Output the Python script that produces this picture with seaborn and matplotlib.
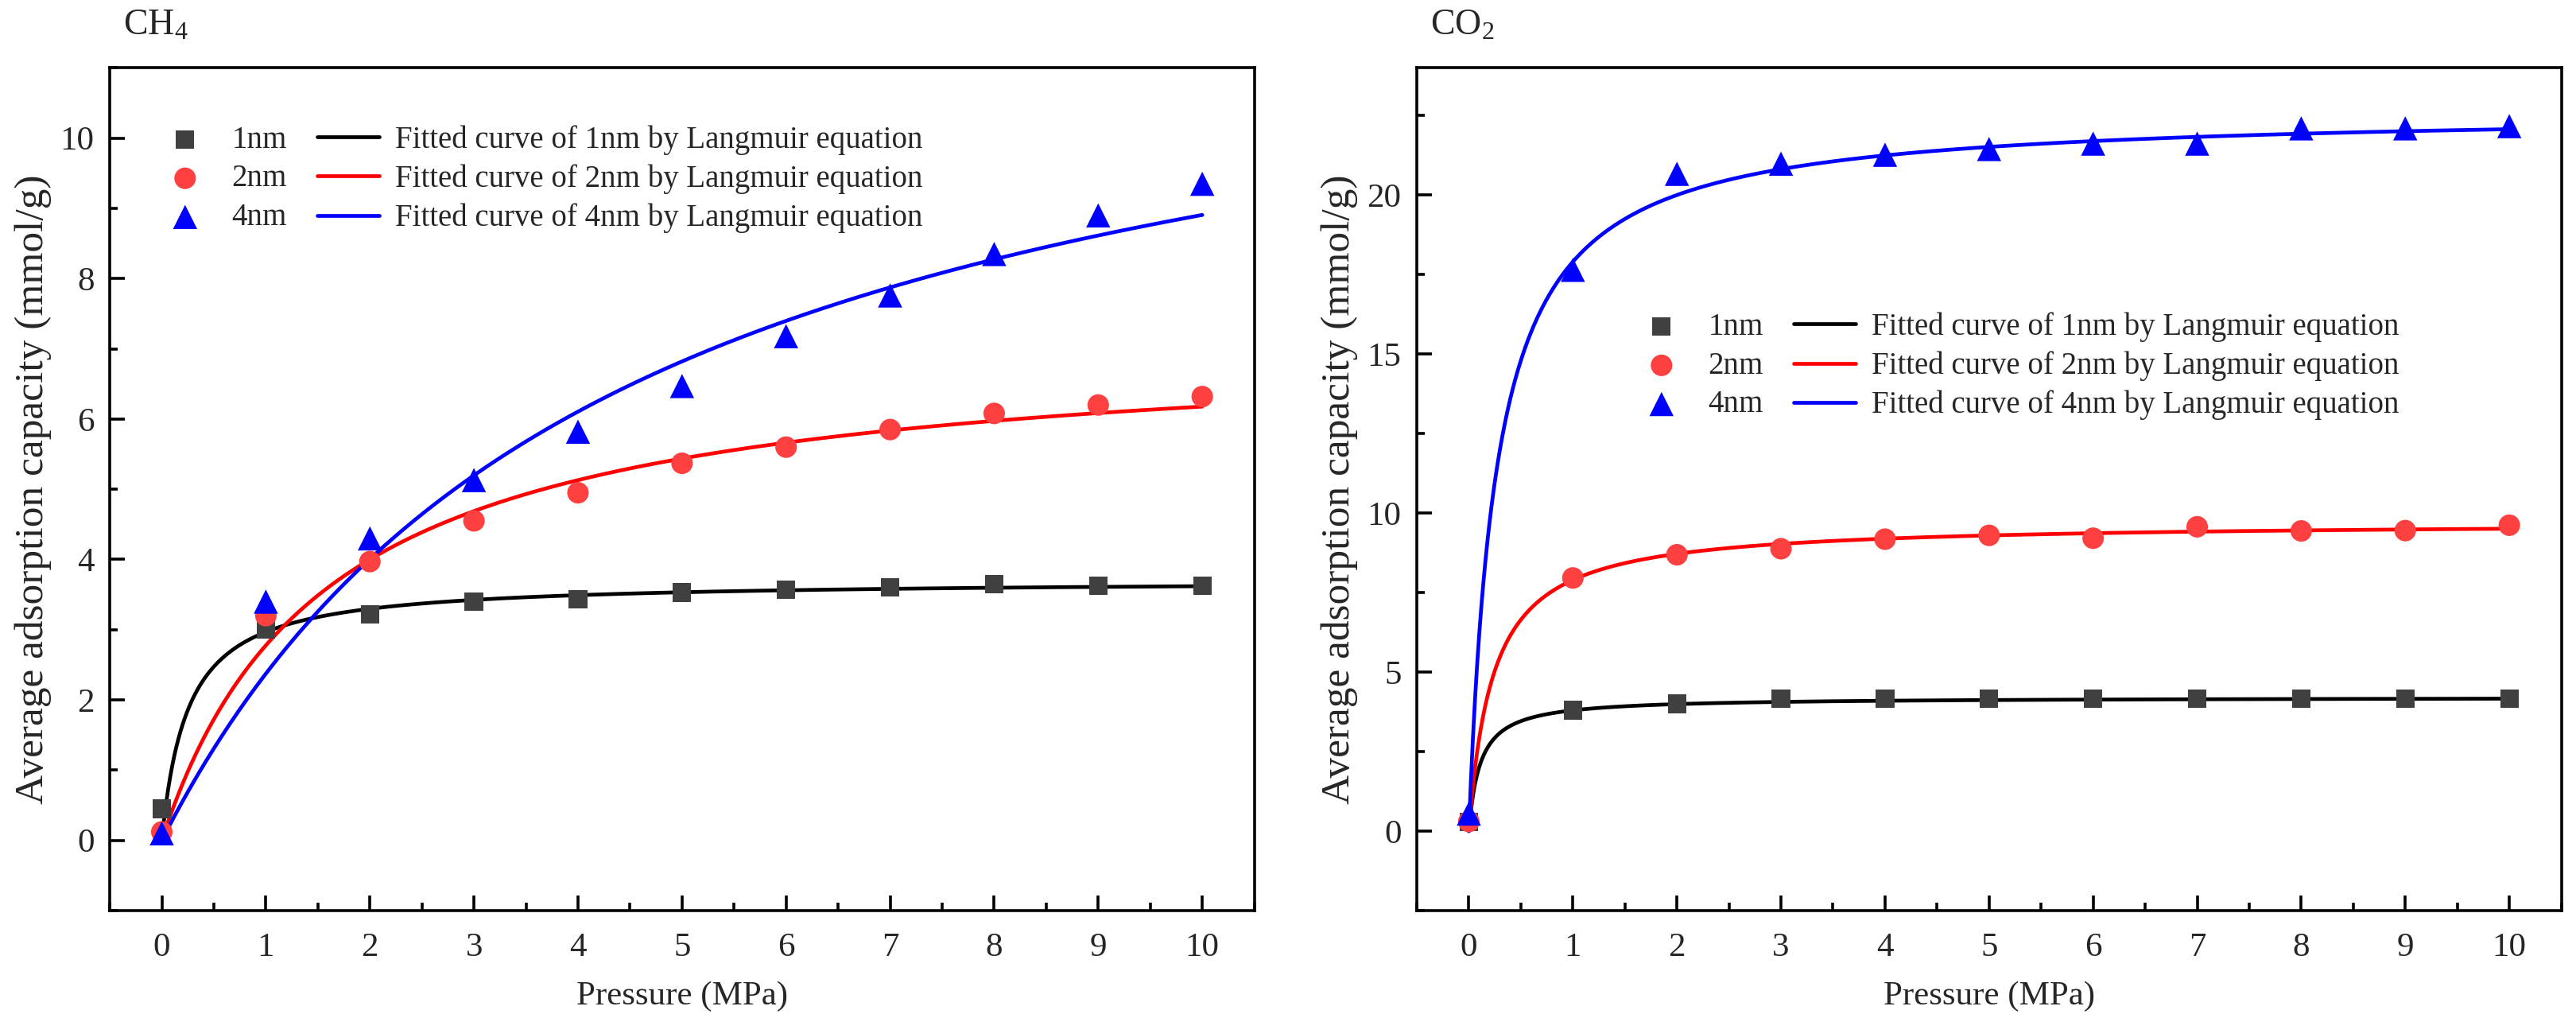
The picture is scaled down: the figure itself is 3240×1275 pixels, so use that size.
import numpy as np
import pandas as pd
import seaborn as sns
import matplotlib.pyplot as plt
from matplotlib.ticker import MultipleLocator

# 数据
pressure = [0, 1, 2, 3, 4, 5, 6, 7, 8, 9, 10]
sizes = ["1nm", "2nm", "4nm"]

ch4_1nm = [0.45, 3.00, 3.22, 3.40, 3.43, 3.53, 3.57, 3.60, 3.65, 3.63, 3.63]
ch4_2nm = [0.12, 3.20, 3.97, 4.55, 4.95, 5.37, 5.60, 5.85, 6.08, 6.20, 6.32]
ch4_4nm = [0.10, 3.40, 4.30, 5.13, 5.82, 6.47, 7.18, 7.76, 8.35, 8.90, 9.35]

co2_1nm = [0.28, 3.80, 4.00, 4.16, 4.16, 4.16, 4.16, 4.16, 4.16, 4.16, 4.16]
co2_2nm = [0.30, 7.96, 8.69, 8.88, 9.18, 9.30, 9.21, 9.57, 9.44, 9.45, 9.62]
co2_4nm = [0.55, 17.65, 20.67, 20.99, 21.27, 21.45, 21.62, 21.62, 22.10, 22.10, 22.17]

# Langmuir parameters (q_max, b) estimated from the fitted curves
ch4_qmax = [3.71, 7.15, 12.83]
ch4_b = [4.0, 0.635, 0.227]
co2_qmax = [4.21, 9.73, 22.66]
co2_b = [9.2, 4.31, 3.765]

marker_colors = ["#404040", "#FF4040", "#0000FF"]
line_colors = ["#000000", "#FF0000", "#0000FF"]
markers = ["s", "o", "^"]
marker_sizes = [70, 95, 120]

sns.set_style("ticks")
plt.rcParams["font.family"] = ["Liberation Serif", "DejaVu Serif"]
plt.rcParams["mathtext.fontset"] = "custom"
plt.rcParams["mathtext.rm"] = "Liberation Serif"
plt.rcParams["mathtext.it"] = "Liberation Serif:italic"
fs = 14


def langmuir(p, qm, b):
    return qm * b * p / (1 + b * p)


def draw_panel(ax, series, qmax, bvals, title, ylim, ymajor, legend_anchor):
    pts = pd.DataFrame({
        "Pressure": pressure * 3,
        "q": sum(series, []),
        "size": [s for s in sizes for _ in pressure],
    })
    p_fine = np.linspace(0, 10, 500)
    for i, s in enumerate(sizes):
        sub = pts[pts["size"] == s]
        sns.scatterplot(data=sub, x="Pressure", y="q", ax=ax, marker=markers[i],
                        color=marker_colors[i], s=marker_sizes[i], edgecolor="none",
                        label=s, zorder=3)
    for i, s in enumerate(sizes):
        fit = pd.DataFrame({"Pressure": p_fine, "q": langmuir(p_fine, qmax[i], bvals[i])})
        sns.lineplot(data=fit, x="Pressure", y="q", ax=ax, color=line_colors[i],
                     linewidth=1.7, label=f"Fitted curve of {s} by Langmuir equation",
                     zorder=2)
    ax.set_xlim(-0.5, 10.5)
    ax.set_xticks(pressure)
    ax.xaxis.set_minor_locator(MultipleLocator(0.5))
    ax.yaxis.set_major_locator(MultipleLocator(ymajor))
    ax.yaxis.set_minor_locator(MultipleLocator(ymajor / 2))
    ax.set_ylim(*ylim)
    ax.tick_params(which="both", direction="in", top=False, right=False,
                   labelsize=fs + 1.5, width=1.3, color="black")
    ax.tick_params(which="major", length=7)
    ax.tick_params(axis="x", which="major", pad=10)
    ax.tick_params(axis="y", which="major", pad=7)
    ax.tick_params(which="minor", length=3.5)
    for sp in ax.spines.values():
        sp.set_visible(True)
        sp.set_linewidth(1.3)
        sp.set_color("black")
    ax.set_xlabel("Pressure (MPa)", fontsize=fs + 1.5, labelpad=8)
    ax.set_ylabel("Average adsorption capacity (mmol/g)", fontsize=18.5, labelpad=4)
    ax.text(0.012, 1.03, title, transform=ax.transAxes, fontsize=fs + 2.5,
            ha="left", va="bottom")
    ax.legend(loc="upper left", bbox_to_anchor=legend_anchor, ncol=2, frameon=False,
              fontsize=fs, handlelength=2.0, handletextpad=0.5, columnspacing=1.0,
              labelspacing=0.3, borderaxespad=0)


fig, axes = plt.subplots(1, 2, figsize=(16.205, 6.375), dpi=200)
fig.subplots_adjust(left=0.0426, right=0.994, bottom=0.102, top=0.933, wspace=0.142)

draw_panel(axes[0], [ch4_1nm, ch4_2nm, ch4_4nm], ch4_qmax, ch4_b, "CH$_4$",
           (-1, 11), 2, (0.028, 0.947))
draw_panel(axes[1], [co2_1nm, co2_2nm, co2_4nm], co2_qmax, co2_b, "CO$_2$",
           (-2.5, 24), 5, (0.176, 0.725))

fig.savefig("out.png", dpi=200)
